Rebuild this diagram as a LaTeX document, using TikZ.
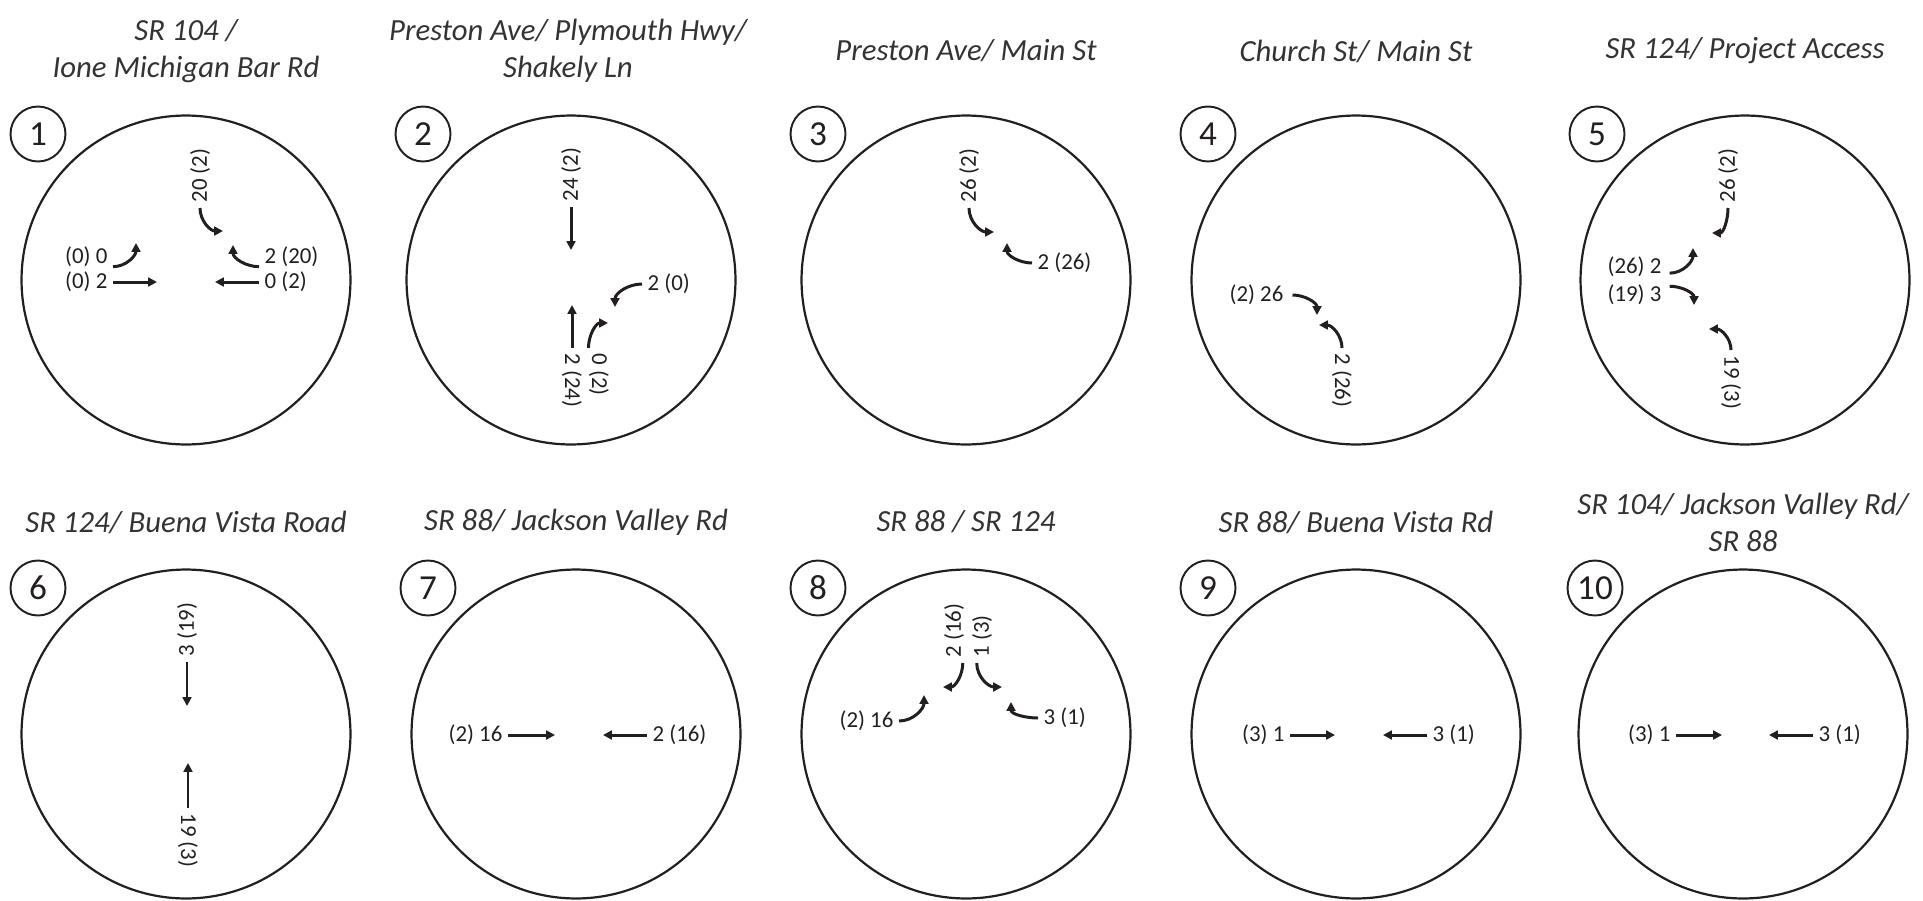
\documentclass[tikz,border=0pt]{standalone}
\usepackage{fontspec}
\setmainfont{Carlito}
\usepackage{tikz}
\usetikzlibrary{arrows.meta}

\definecolor{ink}{HTML}{231F20}
\definecolor{titleink}{HTML}{333333}

\tikzset{
  ring/.style={draw=ink, line width=1.25pt, circle, minimum size=6.58cm, inner sep=0pt},
  tag/.style={draw=ink, line width=1.1pt, circle, minimum size=1.1cm, inner sep=0pt,
    text=ink, font=\fontsize{20}{24}\selectfont},
  title/.style={align=center, text=titleink, font=\fontsize{17.5}{21}\selectfont\itshape},
  vol/.style={text=ink, inner sep=3pt, font=\fontsize{13}{15}\selectfont},
  mv/.style={draw=ink, line width=1.7pt, -{Triangle[length=5pt,width=5pt]}},
}

\begin{document}
\begin{tikzpicture}[x=0.02cm, y=0.02cm]
			\useasboundingbox (0,0) rectangle (1923,-900);

			% titles
			\node[title] (t1) at (186,-51) {SR 104 /\\Ione Michigan Bar Rd};
			\node[title] (t2) at (568,-51) {Preston Ave/ Plymouth Hwy/\\Shakely Ln};
			\node[title] (t3) at (966,-51) {Preston Ave/ Main St};
			\node[title] (t4) at (1356,-51) {Church St/ Main St};
			\node[title] (t5) at (1745,-51) {SR 124/ Project Access};
			\node[title] (t6) at (186,-522) {SR 124/ Buena Vista Road};
			\node[title] (t7) at (576,-522) {SR 88/ Jackson Valley Rd};
			\node[title] (t8) at (966,-522) {SR 88 / SR 124};
			\node[title] (t9) at (1356,-522) {SR 88/ Buena Vista Rd};
			\node[title] (t10) at (1743,-522) {SR 104/ Jackson Valley Rd/\\SR 88};

			% intersections
			\node[ring] (c1) at (186,-280) {};
			\node[ring] (c2) at (571,-280) {};
			\node[ring] (c3) at (966,-280) {};
			\node[ring] (c4) at (1356,-280) {};
			\node[ring] (c5) at (1745,-280) {};
			\node[ring] (c6) at (186,-734) {};
			\node[ring] (c7) at (576,-734) {};
			\node[ring] (c8) at (966,-734) {};
			\node[ring] (c9) at (1356,-734) {};
			\node[ring] (c10) at (1743,-734) {};

			\node[tag] (n1) at (38,-134) {1};
			\node[tag] (n2) at (423,-134) {2};
			\node[tag] (n3) at (818,-134) {3};
			\node[tag] (n4) at (1208,-134) {4};
			\node[tag] (n5) at (1597,-134) {5};
			\node[tag] (n6) at (38,-588) {6};
			\node[tag] (n7) at (428,-588) {7};
			\node[tag] (n8) at (818,-588) {8};
			\node[tag] (n9) at (1208,-588) {9};
			\node[tag] (n10) at (1595,-588) {10};

			% 1
			\begin{scope}[shift={(186,-280)}]
			\node[vol, rotate=90, anchor=west] (l1a) at (14,72) {20 (2)};
			\node[vol, anchor=west] (l1b) at (73,23) {2 (20)};
			\node[vol, anchor=west] (l1c) at (73,-2) {0 (2)};
			\node[vol, anchor=east] (l1d) at (-73,23) {(0) 0};
			\node[vol, anchor=east] (l1e) at (-73,-2) {(0) 2};
			\coordinate (h1a) at (37,49);
			\coordinate (h1b) at (47,35);
			\coordinate (h1c) at (29,-2);
			\coordinate (h1d) at (-50,37);
			\coordinate (h1e) at (-29,-2);
			\draw[mv] (l1a.west) to[out=-90,in=180] (h1a);
			\draw[mv] ([yshift=-5.5pt]l1b.west) to[out=180,in=-90] (h1b);
			\draw[mv] (l1c.west) -- (h1c);
			\draw[mv] ([yshift=-5.5pt]l1d.east) to[out=0,in=-90] (h1d);
			\draw[mv] (l1e.east) -- (h1e);
			\end{scope}

			% 2
			\begin{scope}[shift={(571,-280)}]
			\node[vol, rotate=90, anchor=west] (l2a) at (0,73) {24 (2)};
			\node[vol, anchor=west] (l2b) at (71,-4) {2 (0)};
			\node[vol, rotate=-90, anchor=west] (l2c) at (1,-68) {2 (24)};
			\node[vol, rotate=-90, anchor=west] (l2d) at (28,-68) {0 (2)};
			\coordinate (h2a) at (0,30);
			\coordinate (h2b) at (44,-27);
			\coordinate (h2c) at (1,-25);
			\coordinate (h2d) at (37,-43);
			\draw[mv] (l2a.west) -- (h2a);
			\draw[mv] (l2b.west) to[out=180,in=90] (h2b);
			\draw[mv] (l2c.west) -- (h2c);
			\draw[mv] ([xshift=-6pt]l2d.west) to[out=90,in=180] (h2d);
			\end{scope}

			% 3
			\begin{scope}[shift={(966,-280)}]
			\node[vol, rotate=90, anchor=west] (l3a) at (3,72) {26 (2)};
			\node[vol, anchor=west] (l3b) at (66,17) {2 (26)};
			\coordinate (h3a) at (28,48);
			\coordinate (h3b) at (41,37);
			\draw[mv] (l3a.west) to[out=-90,in=180] (h3a);
			\draw[mv] (l3b.west) to[out=180,in=-90] (h3b);
			\end{scope}

			% 4
			\begin{scope}[shift={(1356,-280)}]
			\node[vol, anchor=east] (l4a) at (-67,-15) {(2) 26};
			\node[vol, rotate=-90, anchor=west] (l4b) at (-14,-68) {2 (26)};
			\coordinate (h4a) at (-39,-35);
			\coordinate (h4b) at (-37,-45);
			\draw[mv] ([xshift=2pt]l4a.east) to[out=0,in=90] (h4a);
			\draw[mv] (l4b.west) to[out=90,in=0] (h4b);
			\end{scope}

			% 5
			\begin{scope}[shift={(1745,-280)}]
			\node[vol, rotate=90, anchor=west] (l5a) at (-17,72) {26 (2)};
			\node[vol, anchor=east] (l5b) at (-78,13) {(26) 2};
			\node[vol, anchor=east] (l5c) at (-78,-15) {(19) 3};
			\node[vol, rotate=-90, anchor=west] (l5d) at (-14,-70) {19 (3)};
			\coordinate (h5a) at (-33,47);
			\coordinate (h5b) at (-52,32);
			\coordinate (h5c) at (-51,-25);
			\coordinate (h5d) at (-36,-49);
			\draw[mv] (l5a.west) to[out=-90,in=0] (h5a);
			\draw[mv] ([shift={(1.5pt,-3.5pt)}]l5b.east) to[out=0,in=-90] (h5b);
			\draw[mv] ([shift={(1.5pt,5pt)}]l5c.east) to[out=0,in=90] (h5c);
			\draw[mv] (l5d.west) to[out=90,in=0] (h5d);
			\end{scope}

			% 6
			\begin{scope}[shift={(186,-734)}]
			\node[vol, rotate=90, anchor=west] (l6a) at (1,72) {3 (19)};
			\node[vol, rotate=-90, anchor=west] (l6b) at (2,-74) {19 (3)};
			\coordinate (h6a) at (1,28);
			\coordinate (h6b) at (2,-29);
			\draw[mv] (l6a.west) -- (h6a);
			\draw[mv] (l6b.west) -- (h6b);
			\end{scope}

			% 7
			\begin{scope}[shift={(576,-734)}]
			\node[vol, anchor=east] (l7a) at (-68,-1) {(2) 16};
			\node[vol, anchor=west] (l7b) at (71,-1) {2 (16)};
			\coordinate (h7a) at (-21,-1);
			\coordinate (h7b) at (27,-1);
			\draw[mv] (l7a.east) -- (h7a);
			\draw[mv] (l7b.west) -- (h7b);
			\end{scope}

			% 8
			\begin{scope}[shift={(966,-734)}]
			\node[vol, rotate=90, anchor=west] (l8a) at (-12,71) {2 (16)};
			\node[vol, rotate=90, anchor=west] (l8b) at (16,71) {1 (3)};
			\node[vol, anchor=east] (l8c) at (-67,13) {(2) 16};
			\node[vol, anchor=west] (l8d) at (72,16) {3 (1)};
			\coordinate (h8a) at (-23,47);
			\coordinate (h8b) at (36,47);
			\coordinate (h8c) at (-42,39);
			\coordinate (h8d) at (45,32);
			\draw[mv] ([xshift=5pt]l8a.west) to[out=-90,in=0] (h8a);
			\draw[mv] ([xshift=-3pt]l8b.west) to[out=-90,in=180] (h8b);
			\draw[mv] (l8c.east) to[out=0,in=-90] (h8c);
			\draw[mv] (l8d.west) to[out=180,in=-90] (h8d);
			\end{scope}

			% 9
			\begin{scope}[shift={(1356,-734)}]
			\node[vol, anchor=east] (l9a) at (-66,-1) {(3) 1};
			\node[vol, anchor=west] (l9b) at (71,-1) {3 (1)};
			\coordinate (h9a) at (-21,-1);
			\coordinate (h9b) at (27,-1);
			\draw[mv] (l9a.east) -- (h9a);
			\draw[mv] (l9b.west) -- (h9b);
			\end{scope}

			% 10
			\begin{scope}[shift={(1743,-734)}]
			\node[vol, anchor=east] (l10a) at (-67,-1) {(3) 1};
			\node[vol, anchor=west] (l10b) at (70,-1) {3 (1)};
			\coordinate (h10a) at (-21,-1);
			\coordinate (h10b) at (26,-1);
			\draw[mv] (l10a.east) -- (h10a);
			\draw[mv] (l10b.west) -- (h10b);
			\end{scope}
		  \end{tikzpicture}
\end{document}
